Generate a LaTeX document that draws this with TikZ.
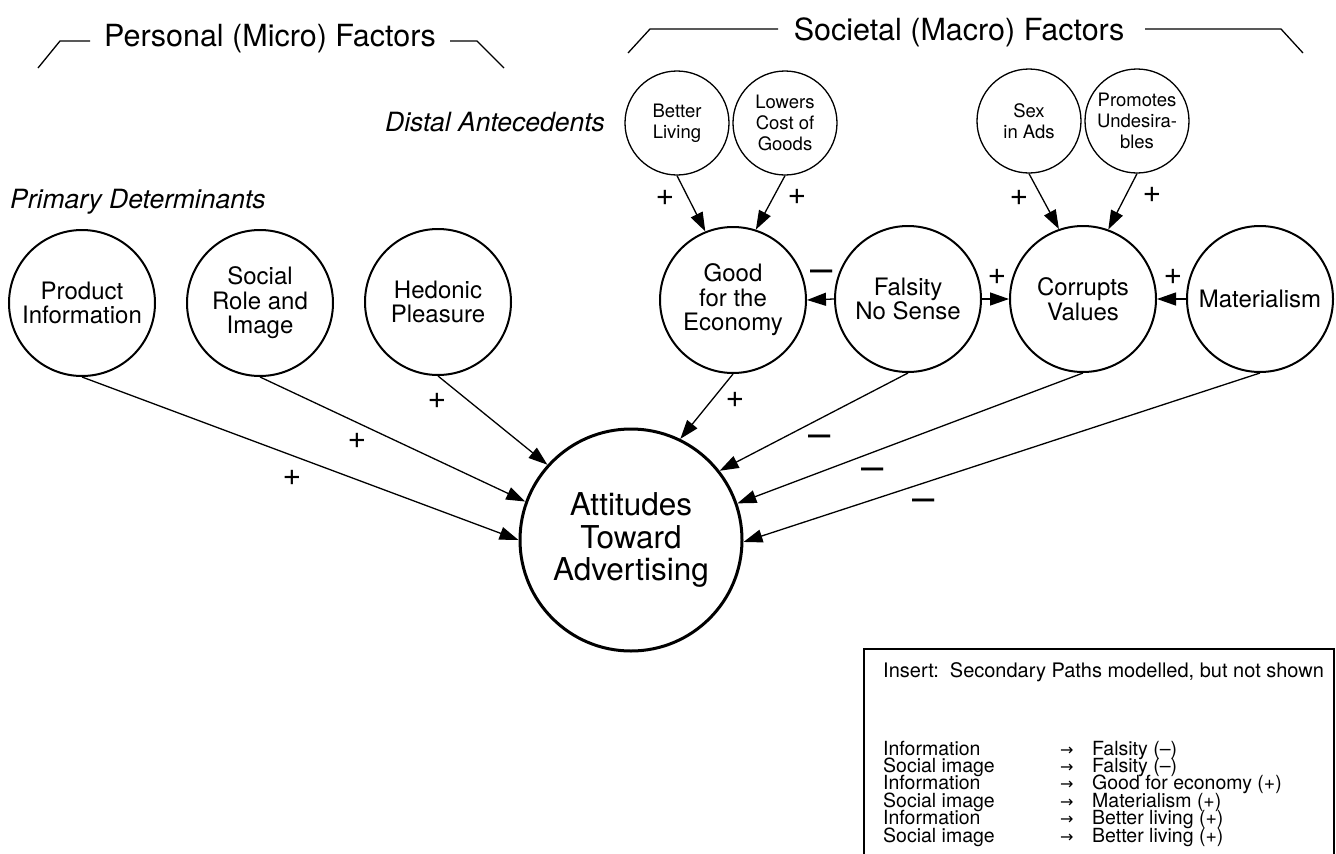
\documentclass[tikz,border=0pt]{standalone}
\usepackage{fontspec}
\setmainfont{TeX Gyre Heros}
\newfontfamily\arrowfont{DejaVu Sans}
\usetikzlibrary{positioning, arrows.meta}
\tikzset{
	factor/.style={circle, draw, line width=2pt, minimum size=146pt, inner sep=0pt, align=center, font=\fontsize{24}{24.5}\selectfont},
	antecedent/.style={circle, draw, line width=1.3pt, minimum size=104pt, inner sep=0pt, align=center, font=\fontsize{18.5}{21}\selectfont},
	outcome/.style={circle, draw, line width=3pt, minimum size=222pt, inner sep=0pt, align=center, font=\fontsize{31.5}{32.5}\selectfont},
	effect/.style={-{Triangle[length=19pt,width=13pt]}, line width=1.3pt},
	bracket/.style={line width=1.3pt},
	heading/.style={font=\fontsize{30.5}{30.5}\selectfont, inner sep=0pt},
	stage/.style={font=\fontsize{26.5}{26.5}\selectfont\itshape, inner sep=0pt},
	possign/.style={font=\fontsize{32}{32}\selectfont, inner sep=0pt},
	negsign/.style={font=\fontsize{40}{40}\selectfont, inner sep=0pt},
	listtext/.style={font=\fontsize{19.5}{17}\selectfont, inner sep=0pt, anchor=base west}
}
\begin{document}
\begin{tikzpicture}[x=1pt, y=-1pt]
	\useasboundingbox (0,0) rectangle (1336,854);
	
	% headings
	\node[heading, anchor=base] (personal) at (270,46) {Personal (Micro) Factors};
	\node[heading, anchor=base] (societal) at (959,40) {Societal (Macro) Factors};
	\draw[bracket] (38,68) -- (60,41) -- (90,41);
	\draw[bracket] (450,41) -- (477,41) -- (504,68);
	\draw[bracket] (628,53) -- (650,29) -- (778,29);
	\draw[bracket] (1145,29) -- (1281,29) -- (1303,53);
	
	\node[stage, anchor=base west] (distal) at (385,131) {Distal Antecedents};
	\node[stage, anchor=base west] (primary) at (10,208) {Primary Determinants};
	
	% distal antecedents
	\node[antecedent] (living) at (677,123) {Better\\Living};
	\node[antecedent] (cost) at (785,123) {Lowers\\Cost of\\Goods};
	\node[antecedent] (sexads) at (1029,121) {Sex\\in Ads};
	\node[antecedent] (undesir) at (1137,121) {Promotes\\Undesira-\\bles};
	
	% primary determinants
	\node[factor] (info) at (82,303) {Product\\Information};
	\node[factor] (social) at (260,303) {Social\\Role and\\Image};
	\node[factor] (hedonic) at (438,302) {Hedonic\\Pleasure};
	\node[factor] (economy) at (733,300) {Good\\for the\\Economy};
	\node[factor] (falsity) at (908,299) {Falsity\\No Sense};
	\node[factor] (values) at (1083,299) {Corrupts\\Values};
	\node[factor] (material) at (1260,299) {Materialism};
	
	\node[outcome] (attitude) at (631,540) {Attitudes\\Toward\\Advertising};
	
	% paths
	\draw[effect] (living.south) -- (economy.112);
	\draw[effect] (cost.south) -- (economy.72);
	\draw[effect] (sexads.south) -- (values.109);
	\draw[effect] (undesir.south) -- (values.70);
	
	\draw[effect] (falsity.west) -- (economy.east);
	\draw[effect] (falsity.east) -- (values.west);
	\draw[effect] (material.west) -- (values.east);
	
	\draw[effect] (info.south) -- (attitude.180);
	\draw[effect] (social.south) -- (attitude.160);
	\draw[effect] (hedonic.south) -- (attitude.138);
	\draw[effect] (economy.south) -- (attitude.64);
	\draw[effect] (falsity.south) -- (attitude.38);
	\draw[effect] (values.south) -- (attitude.19);
	\draw[effect] (material.south) -- (attitude.-1);
	
	% signs
	\node[possign] (s1) at (665,198) {+};
	\node[possign] (s2) at (797,197) {+};
	\node[possign] (s3) at (1019,198) {+};
	\node[possign] (s4) at (1152,195) {+};
	\node[negsign] (s5) at (822,276) {--};
	\node[possign] (s6) at (997,277) {+};
	\node[possign] (s7) at (1173,277) {+};
	\node[possign] (s8) at (292,478) {+};
	\node[possign] (s9) at (357,441) {+};
	\node[possign] (s10) at (437,401) {+};
	\node[possign] (s11) at (735,400) {+};
	\node[negsign] (s12) at (820,441) {--};
	\node[negsign] (s13) at (873,474) {--};
	\node[negsign] (s14) at (924,505) {--};
	
	% insert
	\node[draw, line width=1.5pt, anchor=north west, minimum width=470pt, minimum height=220pt, inner sep=0pt] (insert) at (863,648) {};
	\node[listtext, font=\fontsize{20}{20}\selectfont] (title) at (883,677) {Insert:\ \ Secondary Paths modelled, but not shown};
	\foreach \src/\dst [count=\i] in {Information/Falsity (--), Social image/Falsity (--), Information/Good for economy (+), Social image/Materialism (+), Information/Better living (+), Social image/Better living (+)}{
		\node[listtext] (src\i) at (883,{737.6+17.4*\i}) {\src};
		\node[listtext] (arr\i) at (1060,{737.6+17.4*\i}) {\arrowfont\fontsize{16}{16}\selectfont →};
		\node[listtext] (dst\i) at (1092,{737.6+17.4*\i}) {\dst};
	}
\end{tikzpicture}
\end{document}
